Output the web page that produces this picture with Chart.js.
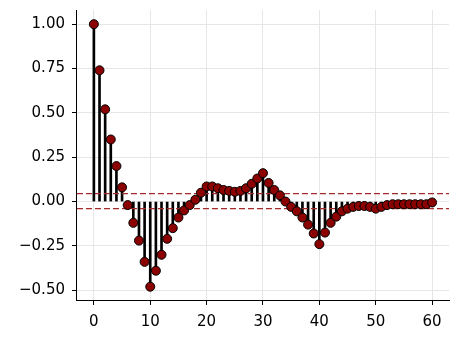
<!DOCTYPE html>
<html>
<head>
<meta charset="utf-8">
<script src="https://cdn.jsdelivr.net/npm/chart.js@4.4.0/dist/chart.umd.min.js"></script>
<style>
  html, body { margin: 0; padding: 0; background: #fff; }
  #wrap { width: 460px; height: 340px; }
</style>
</head>
<body>
<div id="wrap"><canvas id="acf"></canvas></div>
<script>
// autocorrelation per lag
const lags = Array.from({length: 61}, (_, i) => i);
const acfValues = [
  1.00, 0.74, 0.52, 0.35, 0.20, 0.08, -0.02, -0.12, -0.22, -0.34,
  -0.48, -0.39, -0.30, -0.21, -0.15, -0.09, -0.05, -0.02, 0.01, 0.05,
  0.085, 0.085, 0.075, 0.065, 0.06, 0.055, 0.06, 0.075, 0.10, 0.13,
  0.16, 0.105, 0.065, 0.035, 0.0, -0.03, -0.055, -0.09, -0.13, -0.18,
  -0.24, -0.175, -0.12, -0.085, -0.055, -0.04, -0.03, -0.025, -0.025, -0.03,
  -0.04, -0.03, -0.02, -0.015, -0.015, -0.015, -0.015, -0.015, -0.015, -0.015,
  -0.005
];
const confBand = [0.045, -0.04];
const yTicks = [-0.5, -0.25, 0, 0.25, 0.5, 0.75, 1.0];
const xTicks = [0, 10, 20, 30, 40, 50, 60];
const xRange = [-3, 63];

const stems = lags.map((l, i) => ({x: l, y: [0, acfValues[i]]}));
const points = lags.map((l, i) => ({x: l, y: acfValues[i]}));
// dashed band lines sit above the stems, below the markers
const bandSets = confBand.map(c => ({
  type: 'line',
  data: [{x: xRange[0], y: c}, {x: xRange[1], y: c}],
  borderColor: '#a52a2a',
  borderWidth: 1.4,
  borderDash: [6, 3],
  pointRadius: 0,
  order: 0.5
}));

const tickFont = {family: 'DejaVu Sans', size: 15};

new Chart(document.getElementById('acf'), {
  data: {
    datasets: [
      {
        type: 'scatter',
        data: points,
        backgroundColor: '#8b0000',
        borderColor: '#000',
        borderWidth: 1,
        pointRadius: 4.5,
        order: 0
      },
      {
        type: 'bar',
        data: stems,
        backgroundColor: '#000',
        barThickness: 2,
        order: 1
      },
      ...bandSets
    ]
  },
  options: {
    responsive: true,
    maintainAspectRatio: false,
    animation: false,
    layout: {padding: {top: 10, right: 11, left: 12, bottom: 1}},
    plugins: {legend: {display: false}, tooltip: {enabled: false}},
    scales: {
      x: {
        type: 'linear',
        offset: false,
        min: xRange[0],
        max: xRange[1],
        afterBuildTicks: ax => { ax.ticks = xTicks.map(v => ({value: v})); },
        ticks: {color: '#000', font: tickFont, padding: 8, maxRotation: 0},
        grid: {color: '#e6e6e6', tickColor: '#000', tickLength: 5, offset: false},
        border: {color: '#000', width: 1}
      },
      y: {
        min: -0.555,
        max: 1.08,
        afterBuildTicks: ax => { ax.ticks = yTicks.map(v => ({value: v})); },
        afterFit: ax => { ax.paddingTop = 0; },
        ticks: {
          color: '#000',
          font: tickFont,
          padding: 7,
          callback: v => v.toFixed(2).replace('-', '\u2212')
        },
        grid: {color: '#e6e6e6', tickColor: '#000', tickLength: 5},
        border: {color: '#000', width: 1}
      }
    }
  }
});
</script>
</body>
</html>
